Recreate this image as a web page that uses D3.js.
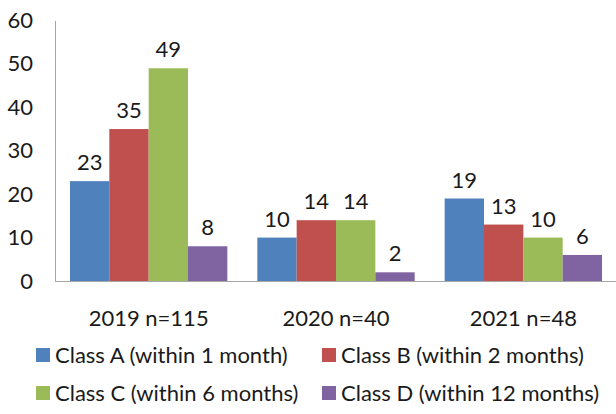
<!DOCTYPE html>
<html><head><meta charset="utf-8">
<script src="https://cdn.jsdelivr.net/npm/d3@7"></script>
<style>body{margin:0;background:#fff;} text{font-family:Lato,"Open Sans",sans-serif;fill:#1a1a1a;}</style>
</head><body>
<svg id="c" width="616" height="414"></svg>
<script>
const categories = ["2019 n=115", "2020 n=40", "2021 n=48"];
const seriesNames = ["Class A (within 1 month)", "Class B (within 2 months)", "Class C (within 6 months)", "Class D (within 12 months)"];
const classA = [23, 10, 19];
const classB = [35, 14, 13];
const classC = [49, 14, 10];
const classD = [8, 2, 6];
const yTicks = [0, 10, 20, 30, 40, 50, 60];
const colors = ["#4F81BD", "#C0504D", "#9BBB59", "#8064A2"];

const series = [classA, classB, classC, classD];
const svg = d3.select("#c");
const mLeft = 55, mRight = 617, mTop = 20.5, mBottom = 281;
const fs = "22px";

const x = d3.scaleBand().domain(categories).range([mLeft, mRight]).paddingInner(0.16).paddingOuter(0.08);
const xs = d3.scaleBand().domain(d3.range(4)).range([0, x.bandwidth()]);
const y = d3.scaleLinear().domain([0, 60]).range([mBottom, mTop]);

// y axis labels
const yAxis = d3.axisLeft(y).tickValues(yTicks).tickSize(0).tickPadding(22);
const ga = svg.append("g").attr("transform", `translate(${mLeft},0)`).call(yAxis);
ga.select(".domain").attr("stroke", "#a6a6a6");
ga.selectAll("text").style("font-size", fs).style("font-family", "Lato, sans-serif").attr("fill", "#1a1a1a");

// bars
series.forEach((vals, si) => {
  svg.append("g").selectAll("rect").data(categories).join("rect")
    .attr("x", (c) => x(c) + xs(si))
    .attr("y", (c, i) => y(vals[i]))
    .attr("width", xs.bandwidth())
    .attr("height", (c, i) => mBottom - y(vals[i]))
    .attr("fill", colors[si]);
  svg.append("g").selectAll("text").data(categories).join("text")
    .attr("x", (c) => x(c) + xs(si) + xs.bandwidth() / 2)
    .attr("y", (c, i) => y(vals[i]) - 11)
    .attr("text-anchor", "middle")
    .style("font-size", fs)
    .text((c, i) => vals[i]);
});

// x baseline
svg.append("line").attr("x1", mLeft).attr("x2", 616).attr("y1", mBottom + 0.5).attr("y2", mBottom + 0.5).attr("stroke", "#a6a6a6");

// category labels
svg.append("g").selectAll("text").data(categories).join("text")
  .attr("x", (c) => x(c) + x.bandwidth() / 2)
  .attr("y", 326)
  .attr("text-anchor", "middle")
  .style("font-size", fs)
  .text((c) => c);

// legend
const lx = [36, 322], ly = [355, 393];
seriesNames.forEach((n, i) => {
  const col = i % 2, row = Math.floor(i / 2);
  svg.append("rect").attr("x", lx[col]).attr("y", ly[row] - 7).attr("width", 14).attr("height", 14).attr("fill", colors[i]);
  svg.append("text").attr("x", lx[col] + 19).attr("y", ly[row] + 8).style("font-size", fs).text(n);
});
</script>
</body></html>
